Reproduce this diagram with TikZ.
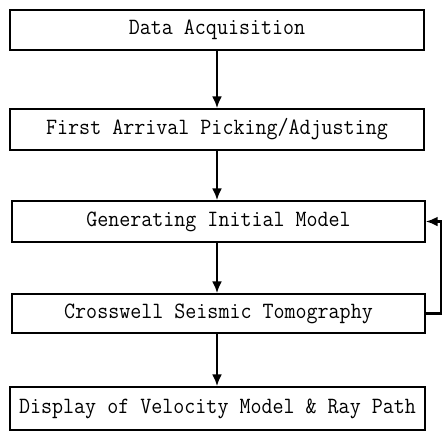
\documentclass[tikz,border=0pt]{standalone}
\usepackage{graphicx}
\usetikzlibrary{arrows.meta}
\tikzset{
  stagebox/.style={draw=black, line width=1.4pt, rectangle, inner sep=0pt,
    font=\ttfamily\fontsize{21.4}{24}\selectfont},
  flowarrow/.style={draw=black, line width=2.6pt, -{Latex[length=12pt,width=10pt]}},
}
\newcommand{\stxt}[1]{\scalebox{1}[1.09]{#1}}
\begin{document}
\begin{tikzpicture}[x=1pt,y=-1pt]
\useasboundingbox (0,0) rectangle (443,432);
\node[stagebox, minimum width=414pt, minimum height=40pt] (a) at (217,30) {\stxt{Data Acquisition}};
\node[stagebox, minimum width=414pt, minimum height=41pt] (b) at (217,129.5) {\stxt{First Arrival Picking/Adjusting}};
\node[stagebox, minimum width=413pt, minimum height=41pt] (c) at (218.5,221.5) {\stxt{Generating Initial Model}};
\node[stagebox, minimum width=413pt, minimum height=39pt] (d) at (218.5,313.5) {\stxt{Crosswell Seismic Tomography}};
\node[stagebox, minimum width=415pt, minimum height=43pt] (e) at (217.5,408.5) {\stxt{Display of Velocity Model \& Ray Path}};
\draw[flowarrow] (a.south) -- (a.south |- b.north);
\draw[flowarrow] (b.south) -- (b.south |- c.north);
\draw[flowarrow] (c.south -| b.south) -- (b.south |- d.north);
\draw[flowarrow] (d.south -| b.south) -- (b.south |- e.north);
\coordinate (fb) at (441,313.5);
\draw[flowarrow] (d.east) -- (fb) |- (c.east);
\end{tikzpicture}
\end{document}
